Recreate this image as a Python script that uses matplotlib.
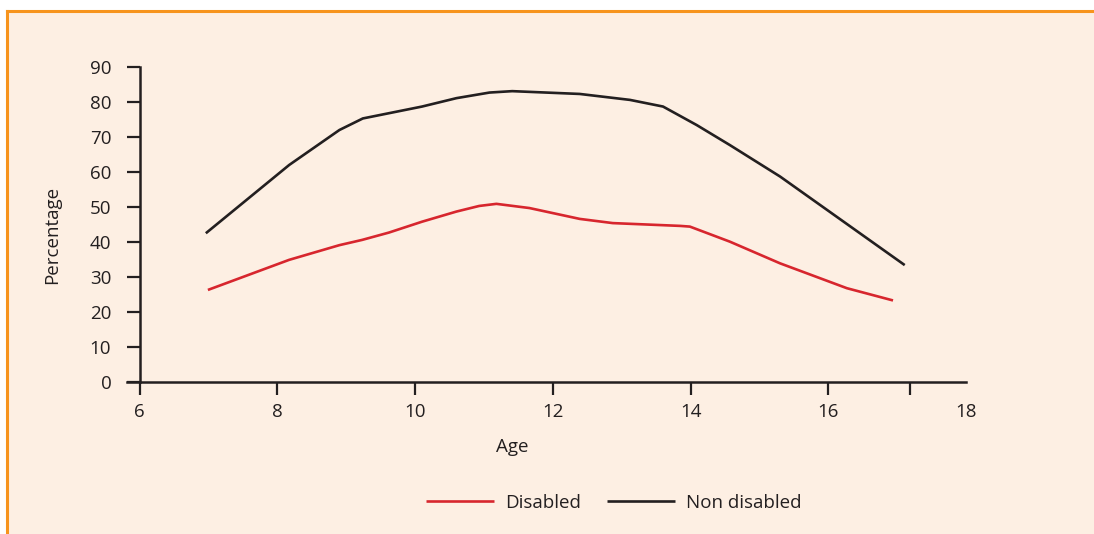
import matplotlib
matplotlib.use("Agg")
import matplotlib.pyplot as plt
from matplotlib.patches import Rectangle
from matplotlib.lines import Line2D

# ---- data ----
age_non = [6.96, 8.17, 8.90, 9.24, 9.62, 10.10, 10.60, 11.08, 11.41, 12.39, 13.12, 13.60, 14.09, 14.57, 15.30, 17.11]
non_disabled = [42.5, 62.0, 72.0, 75.3, 76.8, 78.7, 81.1, 82.7, 83.1, 82.3, 80.6, 78.7, 73.4, 67.7, 58.7, 33.4]

age_dis = [6.99, 8.17, 8.90, 9.23, 9.62, 10.10, 10.60, 10.93, 11.18, 11.66, 12.39, 12.87, 13.85, 13.99, 14.57, 15.30, 16.27, 16.94]
disabled = [26.3, 34.9, 39.1, 40.6, 42.7, 45.8, 48.7, 50.3, 50.9, 49.7, 46.6, 45.4, 44.6, 44.4, 40.1, 33.9, 26.8, 23.3]

x_ticks = [6, 8, 10, 12, 14, 16, 17.18, 18]
x_tick_labels = ["6", "8", "10", "12", "14", "16", "", "18"]
y_ticks = [0, 10, 20, 30, 40, 50, 60, 70, 80, 90]

series_names = ["Disabled", "Non disabled"]

# ---- style ----
BG = "#FDEFE3"
ORANGE = "#F7941D"
RED = "#D7262E"
BLACK = "#231F20"
FS = 13.5
plt.rcParams['font.family'] = ['Open Sans', 'DejaVu Sans']

W, H = 1094, 534
fig = plt.figure(figsize=(W / 100, H / 100), dpi=100)
fig.patch.set_facecolor("white")

# panel background and orange border
fig.add_artist(Rectangle((7 / W, 0), 1, (H - 11) / H, transform=fig.transFigure,
                         facecolor=BG, edgecolor="none", zorder=0))
fig.add_artist(Line2D([7 / W, 1], [(H - 11) / H, (H - 11) / H], transform=fig.transFigure,
                      color=ORANGE, lw=2.2, zorder=1))
fig.add_artist(Line2D([7 / W, 7 / W], [0, (H - 11) / H], transform=fig.transFigure,
                      color=ORANGE, lw=2.2, zorder=1))

ax = fig.add_axes([127 / W, (H - 382) / H, (966 - 127) / W, (382 - 67) / H])
ax.set_facecolor("none")

ax.plot(age_dis, disabled, color=RED, lw=1.9, label=series_names[0],
        solid_capstyle="butt", solid_joinstyle="round")
ax.plot(age_non, non_disabled, color=BLACK, lw=1.9, label=series_names[1],
        solid_capstyle="butt", solid_joinstyle="round")

ax.set_xlim(5.815, 18.0)
ax.set_ylim(0, 90)

for s in ["top", "right"]:
    ax.spines[s].set_visible(False)
ax.spines["left"].set_position(("data", 6))
ax.spines["left"].set_bounds(0, 90)
for s in ["left", "bottom"]:
    ax.spines[s].set_linewidth(1.8)
    ax.spines[s].set_color(BLACK)

ax.set_xticks(x_ticks)
ax.set_xticklabels(x_tick_labels)
ax.set_yticks(y_ticks)
ax.set_yticklabels([str(v) for v in y_ticks])
ax.tick_params(axis="y", direction="out", length=9.5, width=1.6, pad=11,
               labelsize=FS, colors=BLACK)
ax.tick_params(axis="x", direction="out", length=9, width=1.6, pad=6,
               labelsize=FS, colors=BLACK)
ax.xaxis.get_major_ticks()[-1].tick1line.set_visible(False)

fig.text(52 / W, 1 - 235 / H, "Percentage", rotation=90, ha="center", va="center",
         fontsize=FS, color=BLACK)
fig.text(512 / W, 1 - 447 / H, "Age", ha="center", va="center",
         fontsize=FS, color=BLACK)

leg = fig.legend(loc="center", bbox_to_anchor=(614 / W, 1 - 503 / H), ncol=2,
                 frameon=False, fontsize=FS, handlelength=3.6, handletextpad=0.6,
                 columnspacing=1.4)
for t in leg.get_texts():
    t.set_color(BLACK)

fig.savefig("out.png", dpi=100, facecolor=fig.get_facecolor())
